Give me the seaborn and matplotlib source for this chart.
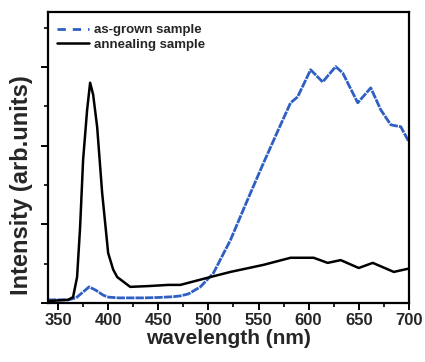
import matplotlib
matplotlib.use("Agg")
import matplotlib.pyplot as plt
from matplotlib.lines import Line2D
from matplotlib.ticker import MultipleLocator, NullFormatter
import seaborn as sns

# as-grown sample (blue, dashed)
wl_grown = [340, 360, 368, 375, 381, 388, 395, 400, 410, 420, 435, 450, 465,
            472, 480, 492, 505, 522, 539, 555, 572, 582, 589, 602, 614, 627,
            634, 649, 662, 672, 682, 692, 700]
int_grown = [0.08, 0.08, 0.13, 0.28, 0.41, 0.32, 0.2, 0.15, 0.13, 0.13, 0.13,
             0.14, 0.16, 0.18, 0.23, 0.41, 0.76, 1.6, 2.62, 3.56, 4.53, 5.09,
             5.24, 5.93, 5.62, 6.01, 5.85, 5.09, 5.47, 4.91, 4.53, 4.48, 4.1]

# annealing sample (black, solid)
wl_anneal = [340, 360, 365, 369, 372, 375, 379, 382, 385, 389, 394, 400, 405,
             409, 422, 440, 460, 472, 490, 502, 522, 555, 582, 599, 605, 619,
             632, 650, 664, 685, 699]
int_anneal = [0.05, 0.08, 0.15, 0.66, 1.93, 3.64, 4.91, 5.6, 5.3, 4.48, 2.8,
              1.27, 0.85, 0.66, 0.41, 0.43, 0.46, 0.46, 0.58, 0.66, 0.79, 0.97,
              1.15, 1.15, 1.15, 1.02, 1.09, 0.89, 1.02, 0.79, 0.87]

BLUE = '#2f5fc2'

sns.set_style('ticks')
plt.rcParams['font.family'] = ['Liberation Sans', 'DejaVu Sans']
plt.rcParams['font.weight'] = 'bold'

fig = plt.figure(figsize=(4.25, 3.62), dpi=100)
ax = fig.add_axes([0.113, 0.163, 0.849, 0.804])

sns.lineplot(x=wl_grown, y=int_grown, ax=ax, color=BLUE, linewidth=2.0,
             estimator=None)
ax.lines[-1].set_dashes([3, 0.4])
sns.lineplot(x=wl_anneal, y=int_anneal, ax=ax, color='black', linewidth=1.8,
             estimator=None)

ax.set_xlim(340, 700)
ax.set_ylim(0, 7.4)
ax.xaxis.set_major_locator(MultipleLocator(50))
ax.xaxis.set_minor_locator(MultipleLocator(25))
ax.yaxis.set_major_locator(MultipleLocator(2))
ax.yaxis.set_minor_locator(MultipleLocator(1))
ax.yaxis.set_major_formatter(NullFormatter())

for side in ['bottom', 'top', 'left', 'right']:
    ax.spines[side].set_visible(True)
    ax.spines[side].set_linewidth(1.6)
    ax.spines[side].set_color('black')

ax.tick_params(which='major', direction='out', length=5, width=1.4,
               labelsize=12, color='black', pad=2)
ax.tick_params(which='minor', direction='out', length=3, width=1.2,
               color='black')
for lab in ax.get_xticklabels():
    lab.set_fontweight('bold')

ax.set_xlabel('wavelength (nm)', fontsize=15, fontweight='bold', labelpad=1)
ax.set_ylabel('Intensity (arb.units)', fontsize=17, fontweight='bold')
ax.yaxis.set_label_coords(-0.042, 0.405)

handles = [
    Line2D([], [], color=BLUE, linewidth=2.0, dashes=[3, 2.5]),
    Line2D([], [], color='black', linewidth=1.8),
]
ax.legend(handles, ['as-grown sample', 'annealing sample'], loc='upper left',
          frameon=False, prop={'size': 9.5, 'weight': 'bold'},
          handlelength=2.4, handletextpad=0.4, labelspacing=0.15,
          borderaxespad=0.3, bbox_to_anchor=(0.0, 0.99))

fig.savefig('out.png', dpi=100)
